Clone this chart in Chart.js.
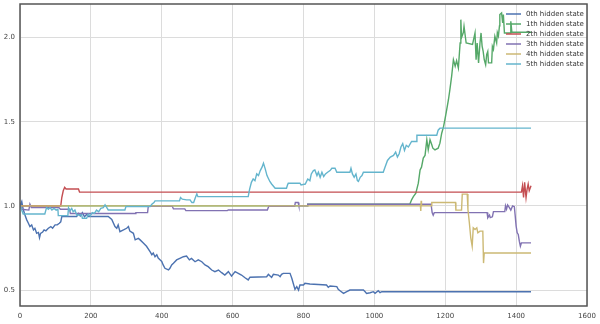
<!DOCTYPE html>
<html>
<head>
<meta charset="utf-8">
<script src="https://cdn.jsdelivr.net/npm/chart.js@4"></script>
<style>
  html, body { margin: 0; padding: 0; background: #fff; }
  canvas { display: block; }
</style>
</head>
<body>
<canvas id="estados" width="600" height="324"></canvas>
<script>
// legend names and colours
const labels = ['0th hidden state', '1th hidden state', '2th hidden state', '3th hidden state', '4th hidden state', '5th hidden state'];
const colors = ['#4C72B0', '#55A868', '#C44E52', '#8172B2', '#CCB974', '#64B5CD'];

const xTicks = [0, 200, 400, 600, 800, 1000, 1200, 1400, 1600];
const yTicks = [0.5, 1.0, 1.5, 2.0];

// [step, value]
const state0 = [[0,1.0],[5,1.026],[9,0.98],[14,0.946],[19,0.917],[23,0.9],[28,0.877],[33,0.887],[38,0.857],[42,0.867],[47,0.837],[52,0.842],[55,0.811],[58,0.837],[64,0.845],[68,0.857],[73,0.852],[80,0.867],[87,0.877],[92,0.867],[99,0.887],[105,0.887],[111,0.897],[115,0.905],[118,0.937],[160,0.937],[165,0.955],[170,0.94],[176,0.96],[182,0.935],[188,0.95],[193,0.937],[249,0.937],[259,0.92],[268,0.877],[273,0.867],[277,0.887],[282,0.847],[292,0.857],[301,0.867],[306,0.877],[310,0.85],[320,0.837],[325,0.798],[334,0.807],[339,0.798],[348,0.78],[357,0.76],[367,0.728],[372,0.71],[376,0.72],[381,0.698],[386,0.71],[390,0.69],[395,0.68],[400,0.67],[404,0.649],[409,0.629],[419,0.619],[423,0.629],[428,0.649],[433,0.659],[442,0.679],[451,0.688],[461,0.698],[470,0.702],[478,0.679],[484,0.688],[494,0.668],[503,0.679],[513,0.668],[522,0.649],[531,0.639],[541,0.619],[550,0.609],[560,0.619],[569,0.603],[578,0.589],[588,0.609],[597,0.583],[607,0.609],[616,0.599],[625,0.589],[635,0.573],[644,0.56],[649,0.576],[696,0.579],[701,0.593],[710,0.575],[715,0.593],[729,0.589],[734,0.579],[738,0.593],[743,0.599],[762,0.599],[767,0.57],[771,0.54],[776,0.504],[781,0.52],[786,0.5],[790,0.53],[800,0.53],[804,0.54],[818,0.536],[865,0.53],[870,0.516],[875,0.524],[894,0.52],[898,0.504],[903,0.496],[913,0.48],[922,0.49],[931,0.5],[969,0.5],[974,0.49],[978,0.48],[988,0.484],[997,0.49],[1002,0.48],[1011,0.496],[1016,0.484],[1021,0.49],[1442,0.49]];
const state1 = [[0,1.0],[810,1.0],[812,1.01],[1100,1.01],[1105,1.036],[1110,1.055],[1117,1.075],[1124,1.135],[1129,1.214],[1133,1.23],[1138,1.284],[1143,1.3],[1148,1.393],[1152,1.333],[1157,1.393],[1162,1.363],[1165,1.343],[1171,1.333],[1180,1.343],[1185,1.373],[1190,1.432],[1195,1.47],[1199,1.512],[1204,1.571],[1209,1.631],[1213,1.69],[1218,1.77],[1223,1.869],[1228,1.83],[1232,1.863],[1237,1.82],[1242,1.968],[1244,2.107],[1246,2.0],[1251,2.03],[1253,2.067],[1259,1.968],[1277,1.96],[1284,2.028],[1287,1.869],[1290,1.968],[1294,1.85],[1298,1.968],[1301,2.028],[1304,1.95],[1307,1.918],[1310,1.87],[1314,1.839],[1317,1.9],[1320,1.918],[1322,1.85],[1331,1.85],[1333,1.948],[1336,1.93],[1340,2.008],[1345,1.968],[1347,2.03],[1350,2.01],[1353,2.07],[1354,2.137],[1359,2.147],[1362,2.087],[1364,2.137],[1367,2.028],[1383,2.028],[1385,2.097],[1388,2.032],[1442,2.032]];
const state2 = [[0,1.0],[115,1.0],[118,1.05],[122,1.09],[126,1.11],[130,1.1],[165,1.1],[168,1.082],[1415,1.082],[1418,1.12],[1421,1.05],[1424,1.14],[1428,1.05],[1431,1.1],[1434,1.13],[1437,1.09],[1442,1.12]];
const state3 = [[0,1.01],[5,0.98],[25,0.975],[28,1.01],[32,0.99],[110,0.99],[114,0.98],[140,0.98],[142,0.955],[325,0.955],[327,0.96],[360,0.96],[362,0.997],[430,0.997],[433,0.982],[465,0.982],[468,0.972],[585,0.972],[588,0.976],[698,0.976],[702,0.998],[775,0.998],[777,1.02],[785,1.02],[787,1.0],[810,1.0],[812,1.01],[1160,1.01],[1163,0.96],[1166,0.945],[1169,0.96],[1318,0.96],[1320,0.93],[1325,0.945],[1327,0.93],[1333,0.935],[1336,0.966],[1368,0.966],[1370,1.0],[1373,0.98],[1376,1.006],[1381,0.99],[1385,0.975],[1390,1.0],[1395,0.995],[1397,0.95],[1400,0.88],[1403,0.84],[1406,0.83],[1409,0.79],[1412,0.76],[1415,0.78],[1442,0.78]];
const state4 = [[0,1.0],[1130,1.0],[1131,0.97],[1132,1.03],[1133,1.0],[1160,1.0],[1162,1.02],[1229,1.02],[1230,0.975],[1246,0.975],[1248,1.07],[1262,1.07],[1264,0.98],[1268,0.9],[1272,0.81],[1276,0.76],[1279,0.87],[1284,0.86],[1289,0.87],[1292,0.84],[1298,0.85],[1306,0.85],[1308,0.66],[1310,0.72],[1442,0.72]];
const state5 = [[0,1.006],[4,0.98],[9,0.952],[70,0.952],[73,0.975],[75,0.99],[80,0.98],[85,0.99],[90,0.975],[96,0.985],[102,0.975],[107,0.98],[108,0.942],[135,0.942],[137,0.988],[141,0.97],[146,0.985],[150,0.965],[155,0.975],[160,0.946],[174,0.946],[176,0.927],[188,0.927],[193,0.95],[198,0.94],[204,0.96],[210,0.955],[216,0.975],[222,0.965],[228,0.985],[235,0.99],[240,1.006],[245,0.99],[249,0.976],[296,0.976],[299,0.996],[367,0.996],[372,1.01],[378,1.02],[381,1.03],[450,1.03],[453,1.05],[458,1.04],[470,1.036],[480,1.036],[485,1.02],[490,1.02],[495,1.05],[499,1.071],[502,1.055],[644,1.055],[648,1.1],[653,1.14],[658,1.16],[663,1.15],[668,1.19],[673,1.18],[678,1.21],[683,1.23],[687,1.254],[692,1.22],[697,1.18],[705,1.145],[710,1.13],[720,1.105],[752,1.105],[755,1.125],[757,1.135],[790,1.135],[793,1.125],[805,1.13],[812,1.16],[818,1.15],[822,1.19],[828,1.21],[832,1.214],[838,1.18],[842,1.2],[847,1.17],[852,1.2],[857,1.175],[862,1.19],[868,1.2],[875,1.21],[880,1.224],[889,1.224],[894,1.2],[931,1.2],[934,1.224],[938,1.19],[943,1.17],[948,1.19],[952,1.15],[955,1.145],[960,1.17],[965,1.18],[969,1.2],[1025,1.2],[1030,1.23],[1037,1.27],[1045,1.29],[1054,1.3],[1060,1.32],[1065,1.29],[1070,1.31],[1075,1.35],[1080,1.37],[1085,1.33],[1090,1.36],[1096,1.35],[1105,1.383],[1118,1.383],[1120,1.42],[1176,1.42],[1180,1.45],[1185,1.462],[1442,1.462]];

const series = [state0, state1, state2, state3, state4, state5];

const fonte = { family: 'DejaVu Sans', size: 7 };

// legend inside the plot, no frame, like the matplotlib one
const legendaDentro = {
  id: 'legendaDentro',
  afterDraw(chart) {
    const { ctx, chartArea } = chart;
    ctx.save();
    // spines
    ctx.strokeStyle = '#555';
    ctx.lineWidth = 1.5;
    ctx.strokeRect(chartArea.left, chartArea.top, chartArea.right - chartArea.left, chartArea.bottom - chartArea.top);
    ctx.font = '7px "DejaVu Sans"';
    ctx.textBaseline = 'middle';
    ctx.textAlign = 'left';
    chart.data.datasets.forEach((ds, i) => {
      const y = chartArea.top + 10 + i * 10;
      const x0 = chartArea.right - 81;
      ctx.strokeStyle = ds.borderColor;
      ctx.lineWidth = 1.5;
      ctx.beginPath();
      ctx.moveTo(x0, y);
      ctx.lineTo(x0 + 15, y);
      ctx.stroke();
      ctx.fillStyle = '#333';
      ctx.fillText(ds.label, x0 + 20, y);
    });
    ctx.restore();
  }
};

const estados = document.getElementById('estados');

new Chart(estados, {
  type: 'line',
  data: {
    datasets: series.map((s, i) => ({
      label: labels[i],
      data: s.map(p => ({ x: p[0], y: p[1] })),
      borderColor: colors[i],
      backgroundColor: colors[i],
      borderWidth: 1.4,
      pointRadius: 0,
      tension: 0,
      fill: false,
      order: series.length - i
    }))
  },
  options: {
    responsive: false,
    animation: false,
    devicePixelRatio: 1,
    layout: { padding: { top: 4, right: 13, left: 0, bottom: 0 } },
    plugins: {
      legend: { display: false },
      tooltip: { enabled: false }
    },
    scales: {
      x: {
        type: 'linear',
        min: 0,
        max: 1600,
        afterFit: s => { s.height = 18; s.paddingLeft = 0; s.paddingRight = 0; },
        afterBuildTicks: s => { s.ticks = xTicks.map(v => ({ value: v })); },
        grid: { color: '#dcdcdc', lineWidth: 1, drawTicks: false },
        border: { display: false },
        ticks: { font: fonte, color: '#444', padding: 6, maxRotation: 0, callback: v => String(v) }
      },
      y: {
        min: 0.405,
        max: 2.2,
        afterFit: s => { s.width = 20; s.paddingTop = 0; s.paddingBottom = 0; },
        afterBuildTicks: s => { s.ticks = yTicks.map(v => ({ value: v })); },
        grid: { color: '#dcdcdc', lineWidth: 1, drawTicks: false },
        border: { display: false },
        ticks: { font: fonte, color: '#444', padding: 5, callback: v => v.toFixed(1) }
      }
    }
  },
  plugins: [legendaDentro]
});
</script>
</body>
</html>
